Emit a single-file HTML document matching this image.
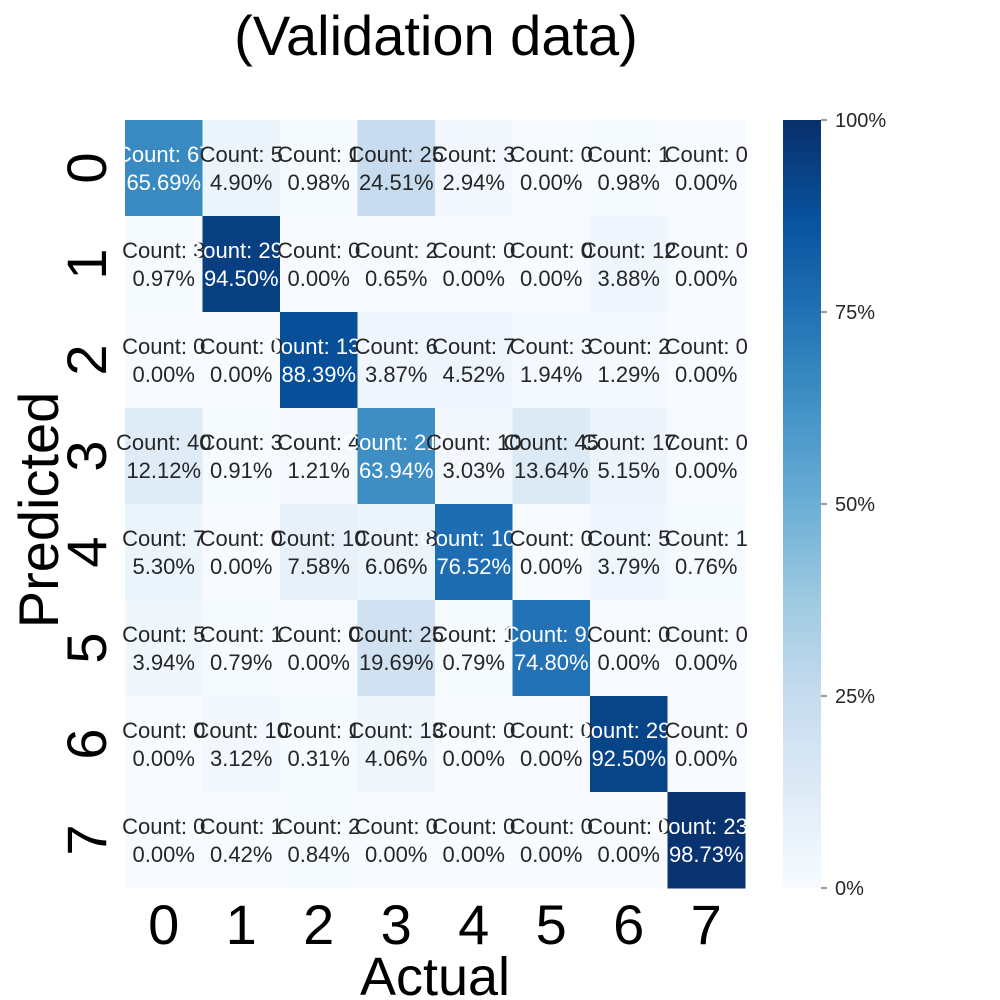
<!DOCTYPE html>
<html><head><meta charset="utf-8"><style>
body{margin:0;background:#fff}
svg{display:block;font-family:"Liberation Sans",Arial,sans-serif}
</style></head><body>
<svg id="chart" width="1000" height="1000" viewBox="0 0 1000 1000">
<defs><linearGradient id="cbg" x1="0" y1="1" x2="0" y2="0">
<stop offset="0" stop-color="#f7fbff"/><stop offset="0.125" stop-color="#deebf7"/><stop offset="0.25" stop-color="#c6dbef"/><stop offset="0.375" stop-color="#9ecae1"/><stop offset="0.5" stop-color="#6baed6"/><stop offset="0.625" stop-color="#4292c6"/><stop offset="0.75" stop-color="#2171b5"/><stop offset="0.875" stop-color="#08519c"/><stop offset="1" stop-color="#08306b"/>
</linearGradient></defs>
<text x="436" y="55" font-size="56" text-anchor="middle">(Validation data)</text>
<g id="cells"></g>
<g id="labels"></g>
<rect x="783" y="120" width="38" height="768" fill="url(#cbg)"/>
<g id="cbticks"></g>
<text x="435" y="995" font-size="54" text-anchor="middle">Actual</text>
<text transform="translate(58,510) rotate(-90)" font-size="56" text-anchor="middle">Predicted</text>
</svg>
<script>
const classes=["0","1","2","3","4","5","6","7"];
const counts=[
[67,5,1,25,3,0,1,0],
[3,292,0,2,0,0,12,0],
[0,0,137,6,7,3,2,0],
[40,3,4,211,10,45,17,0],
[7,0,10,8,101,0,5,1],
[5,1,0,25,1,95,0,0],
[0,10,1,13,0,0,296,0],
[0,1,2,0,0,0,0,234]];
const cbTicks=[0,25,50,75,100];
const X0=125,Y0=120,CW=77.5,CH=96;
const stops=["#f7fbff","#deebf7","#c6dbef","#9ecae1","#6baed6","#4292c6","#2171b5","#08519c","#08306b"].map(h=>[1,3,5].map(i=>parseInt(h.substr(i,2),16)));
function blues(v){v=Math.max(0,Math.min(1,v));const p=v*8,i=Math.min(7,Math.floor(p)),f=p-i;const c=stops[i].map((a,k)=>Math.round(a+(stops[i+1][k]-a)*f));return `rgb(${c})`;}
const NS="http://www.w3.org/2000/svg";
const cells=document.getElementById('cells'),labels=document.getElementById('labels');
counts.forEach((row,r)=>{const s=row.reduce((a,b)=>a+b,0);row.forEach((c,k)=>{const v=c/s;
const rc=document.createElementNS(NS,'rect');


rc.setAttribute('x',X0+k*CW);rc.setAttribute('y',Y0+r*CH);rc.setAttribute('width',CW+0.5);rc.setAttribute('height',CH+0.5);rc.setAttribute('fill',blues(v));cells.appendChild(rc);
const t=document.createElementNS(NS,'text');


t.setAttribute('x',X0+(k+0.5)*CW);t.setAttribute('y',Y0+(r+0.5)*CH-6);t.setAttribute('font-size','22');t.setAttribute('text-anchor','middle');t.setAttribute('fill',v>0.5?'#fff':'#262626');
const a=document.createElementNS(NS,'tspan');a.setAttribute('x',X0+(k+0.5)*CW);a.textContent='Count: '+c;
const b=document.createElementNS(NS,'tspan');b.setAttribute('x',X0+(k+0.5)*CW);b.setAttribute('dy','28');b.textContent=Math.max(0,v*100-1e-9).toFixed(2)+'%';
t.appendChild(a);t.appendChild(b);labels.appendChild(t);});});
classes.forEach((c,i)=>{
const tx=document.createElementNS(NS,'text');


tx.setAttribute('x',X0+(i+0.5)*CW);tx.setAttribute('y',944);tx.setAttribute('font-size','56');tx.setAttribute('text-anchor','middle');tx.textContent=c;labels.appendChild(tx);
const ty=document.createElementNS(NS,'text');


const cy=Y0+(i+0.5)*CH;ty.setAttribute('transform',`translate(106,${cy}) rotate(-90)`);ty.setAttribute('font-size','56');ty.setAttribute('text-anchor','middle');ty.textContent=c;labels.appendChild(ty);});
const cb=document.getElementById('cbticks');
cbTicks.forEach(p=>{const y=888-p/100*768;
const l=document.createElementNS(NS,'line');


l.setAttribute('x1',821);l.setAttribute('x2',827);l.setAttribute('y1',y);l.setAttribute('y2',y);l.setAttribute('stroke','#333');cb.appendChild(l);
const t=document.createElementNS(NS,'text');


t.setAttribute('x',835);t.setAttribute('y',y+7);t.setAttribute('font-size','20');t.setAttribute('fill','#262626');t.textContent=p+'%';cb.appendChild(t);});
</script>
</body></html>
